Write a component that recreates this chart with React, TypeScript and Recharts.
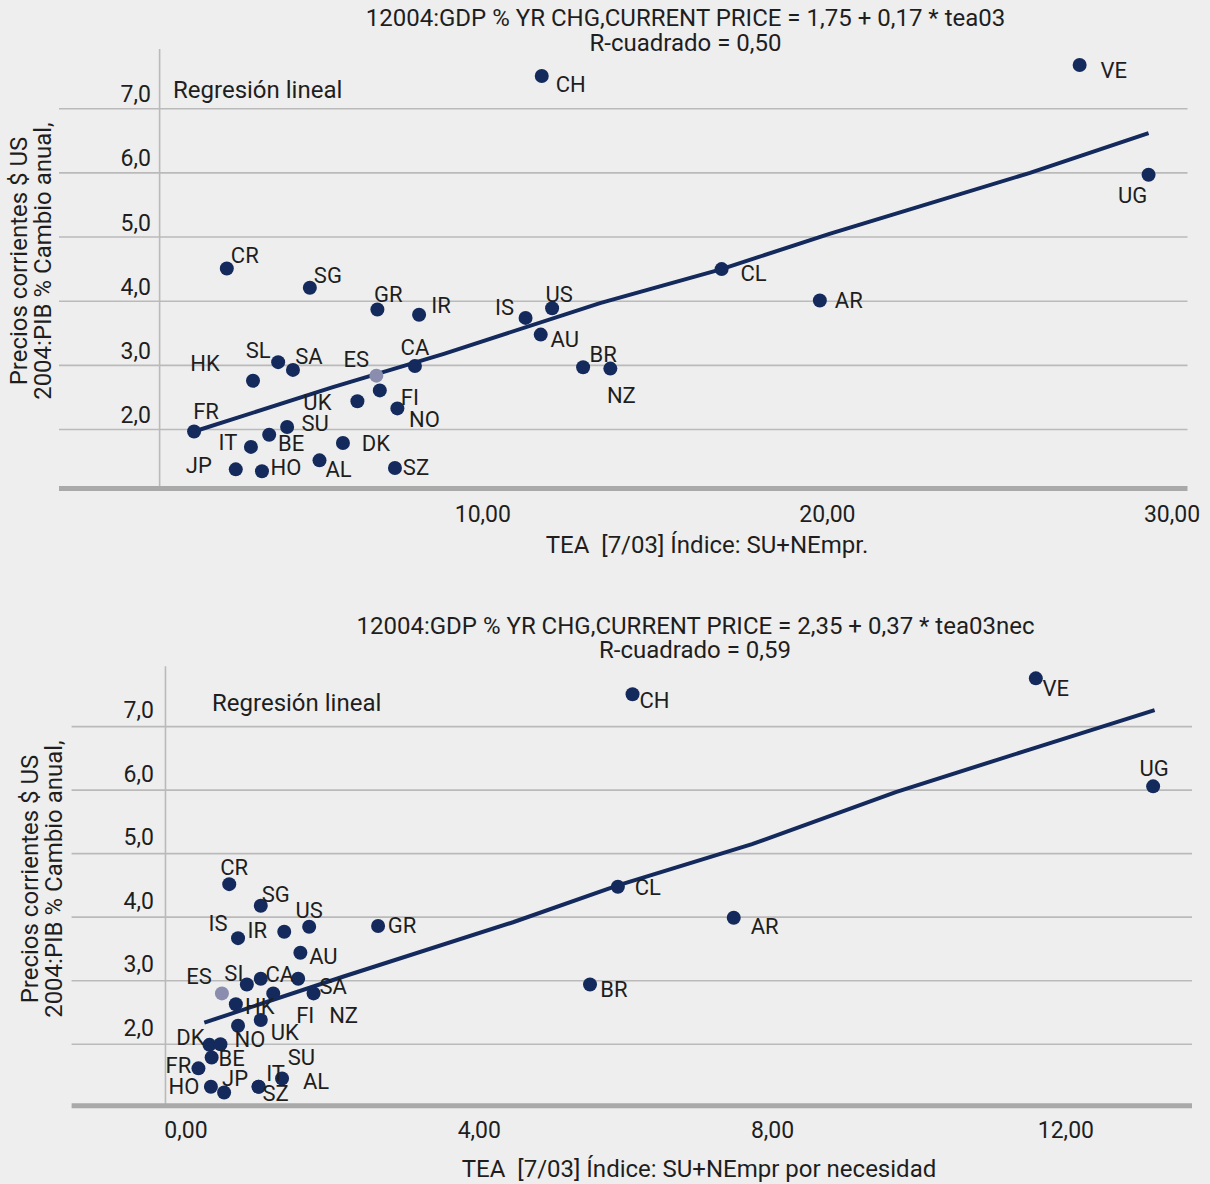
import React from 'react';
import { ScatterChart, Scatter, XAxis, YAxis, ReferenceLine } from 'recharts';

const NAVY = '#142a5c';
const SPAIN = '#8a8dae';
const GRID = '#bababa';
const AXIS = '#a9a9a9';
const BG = '#eeeeee';
const TEXT = '#1e1e1e';
const FONT = 'Roboto, "DejaVu Sans", sans-serif';

// --- chart 1: TEA total ---
const CODES_TEA = ['CH', 'VE', 'UG', 'CL', 'AR', 'CR', 'SG', 'GR', 'IR', 'IS', 'US', 'AU', 'BR', 'NZ', 'HK', 'SL', 'SA', 'ES', 'CA', 'FR', 'UK', 'FI', 'NO', 'SU', 'BE', 'IT', 'DK', 'JP', 'HO', 'AL', 'SZ'];
const TEA = [11.71, 27.32, 29.32, 16.93, 19.78, 2.57, 4.98, 6.94, 8.15, 11.24, 12.01, 11.68, 12.91, 13.7, 3.33, 4.06, 4.49, 6.91, 8.03, 1.62, 6.36, 7.01, 7.52, 4.32, 3.8, 3.27, 5.94, 2.83, 3.59, 5.26, 7.45];
const GDP_TEA = [7.51, 7.68, 5.97, 4.5, 4.01, 4.51, 4.21, 3.87, 3.79, 3.74, 3.89, 3.48, 2.97, 2.95, 2.76, 3.05, 2.93, 2.84, 2.99, 1.97, 2.44, 2.61, 2.33, 2.04, 1.92, 1.73, 1.79, 1.38, 1.35, 1.52, 1.4];
const FIT_TEA_X = [1.62, 5.65, 8.87, 13.4, 16.93, 20.06, 25.88, 29.32];
const FIT_TEA_Y = [1.97, 2.66, 3.18, 3.97, 4.5, 5.05, 6.0, 6.62];
const X_TICKS_TEA = [10, 20, 30];

// --- chart 2: TEA por necesidad ---
const CODES_NEC = ['CH', 'VE', 'UG', 'CL', 'AR', 'CR', 'SG', 'US', 'IR', 'IS', 'GR', 'AU', 'BR', 'ES', 'SI', 'CA', 'SA', 'FI', 'NZ', 'HK', 'UK', 'NO', 'DK', 'SU', 'BE', 'FR', 'HO', 'JP', 'IT', 'SZ', 'AL'];
const TEA_NEC = [6.09, 11.59, 13.19, 5.89, 7.47, 0.59, 1.02, 1.68, 1.34, 0.71, 2.62, 1.56, 5.51, 0.49, 0.83, 1.02, 1.53, 1.19, 1.74, 0.68, 1.02, 0.71, 0.32, 0.47, 0.35, 0.17, 0.34, 0.52, 0.99, 0.99, 1.31];
const GDP_NEC = [7.51, 7.76, 6.06, 4.48, 3.99, 4.52, 4.18, 3.85, 3.77, 3.67, 3.86, 3.44, 2.94, 2.8, 2.94, 3.03, 3.03, 2.8, 2.8, 2.63, 2.38, 2.29, 1.99, 2.0, 1.79, 1.62, 1.33, 1.24, 1.33, 1.33, 1.46];
const FIT_NEC_X = [0.25, 2.16, 4.46, 5.89, 7.72, 9.68, 11.59, 13.21];
const FIT_NEC_Y = [2.34, 3.07, 3.92, 4.5, 5.15, 5.97, 6.67, 7.26];
const X_TICKS_NEC = [0, 4, 8, 12];

const Y_TICKS = [2, 3, 4, 5, 6, 7];

// where each country code sits relative to its dot (px)
const LABEL_OFFSET_TEA: Record<string, [number, number]> = {
  CH: [29, 9], VE: [34, 5], UG: [-16, 21], CL: [32, 4], AR: [29, 0], CR: [18, -13], SG: [18, -12],
  GR: [11, -15], IR: [22, -9], IS: [-21, -10], US: [7, -14], AU: [24, 5], BR: [20, -13], NZ: [11, 27],
  HK: [-48, -17], SL: [-20, -12], SA: [16, -13], ES: [-20, -16], CA: [0, -19], FR: [12, -20], UK: [-40, 1],
  FI: [30, 7], NO: [27, 11], SU: [28, -3], BE: [22, 9], IT: [-23, -4], DK: [33, 0], JP: [-37, -4],
  HO: [24, -4], AL: [19, 9], SZ: [21, -1],
};
const LABEL_OFFSET_NEC: Record<string, [number, number]> = {
  CH: [22, 6], VE: [20, 10], UG: [1, -18], CL: [30, 1], AR: [31, 9], CR: [5, -17], SG: [15, -11],
  US: [0, -16], IR: [-27, -1], IS: [-20, -15], GR: [24, -1], AU: [23, 4], BR: [24, 5], ES: [-23, -17],
  SI: [-13, -11], CA: [19, -4], SA: [35, 8], FI: [32, 22], NZ: [30, 22], HK: [24, 2], UK: [24, 12],
  NO: [12, 14], DK: [-19, -7], SU: [81, 13], BE: [20, 1], FR: [-20, -3], HO: [-27, 0], JP: [11, -14],
  IT: [17, -13], SZ: [17, 7], AL: [34, 3],
};

const fmtX = (v: number) => v.toFixed(2).replace('.', ',');
const fmtY = (v: number) => v.toFixed(1).replace('.', ',');

const Txt = ({ x, y, children, anchor = 'middle', rotate = false, size = 24 }: any) => (
  <div
    style={{
      position: 'absolute',
      left: x,
      top: y,
      transform: `translate(${anchor === 'middle' ? '-50%' : '0'}, -50%)${rotate ? ' rotate(-90deg)' : ''}`,
      whiteSpace: 'pre',
      fontFamily: FONT,
      fontSize: size,
      lineHeight: 1,
      color: TEXT,
    }}
  >
    {children}
  </div>
);

interface PanelProps {
  codes: string[];
  xs: number[];
  ys: number[];
  fitX: number[];
  fitY: number[];
  offsets: Record<string, [number, number]>;
  xTicks: number[];
  xDomain: [number, number];
  yDomain: [number, number];
  axisAt: number;
  height: number;
  margin: { top: number; right: number; bottom: number; left: number };
  yAxisWidth: number;
  yTickX: number;
  yTickDy: number;
  xTickDy: number;
}

const Panel = ({ codes, xs, ys, fitX, fitY, offsets, xTicks, xDomain, yDomain, axisAt, height, margin, yAxisWidth, yTickX, yTickDy, xTickDy }: PanelProps) => {
  const points = codes.map((code, i) => ({ code, x: xs[i], y: ys[i] }));
  const fit = fitX.map((x, i) => ({ x, y: fitY[i] }));

  const dot = (p: any) => (
    <circle cx={p.cx} cy={p.cy} r={7} fill={p.payload.code === 'ES' ? SPAIN : NAVY} />
  );
  const label = (p: any) => {
    const [dx, dy] = offsets[p.payload.code] || [20, 0];
    return (
      <text x={p.cx + dx} y={p.cy + dy} textAnchor="middle" dominantBaseline="central" fontSize={22} fontFamily={FONT} fill={TEXT}>
        {p.payload.code}
      </text>
    );
  };

  return (
    <ScatterChart width={1210} height={height} margin={margin}>
      <XAxis
        type="number"
        dataKey="x"
        domain={xDomain}
        allowDataOverflow
        ticks={xTicks}
        height={30}
        tickSize={0}
        tickMargin={0}
        tickLine={false}
        axisLine={{ stroke: AXIS, strokeWidth: 5 }}
        tick={(p: any) => (
          <text x={p.x} y={p.y + xTickDy} textAnchor="middle" dominantBaseline="central" fontSize={23} fontFamily={FONT} fill={TEXT}>
            {fmtX(p.payload.value)}
          </text>
        )}
      />
      <YAxis
        type="number"
        dataKey="y"
        domain={yDomain}
        allowDataOverflow
        ticks={Y_TICKS}
        width={yAxisWidth}
        tickSize={0}
        tickMargin={0}
        tickLine={false}
        axisLine={false}
        tick={(p: any) => (
          <text x={yTickX} y={p.y + yTickDy} textAnchor="end" dominantBaseline="central" fontSize={23} fontFamily={FONT} fill={TEXT}>
            {fmtY(p.payload.value)}
          </text>
        )}
      />
      {Y_TICKS.map((v) => (
        <ReferenceLine key={v} y={v} stroke={GRID} strokeWidth={1.6} />
      ))}
      <ReferenceLine x={axisAt} stroke={GRID} strokeWidth={1.6} />
      <Scatter data={fit} line={{ stroke: NAVY, strokeWidth: 4 }} lineType="joint" shape={() => <g />} isAnimationActive={false} />
      <Scatter data={points} shape={dot} isAnimationActive={false} />
      <Scatter data={points} shape={label} isAnimationActive={false} />
    </ScatterChart>
  );
};

export default function App() {
  return (
    <div style={{ position: 'absolute', left: 0, top: 0, width: 1210, height: 1184, background: BG, overflow: 'hidden' }}>
      <div style={{ position: 'absolute', left: 0, top: 0 }}>
        <Panel
          codes={CODES_TEA}
          xs={TEA}
          ys={GDP_TEA}
          fitX={FIT_TEA_X}
          fitY={FIT_TEA_Y}
          offsets={LABEL_OFFSET_TEA}
          xTicks={X_TICKS_TEA}
          xDomain={[-2.3, 30.45]}
          yDomain={[1.08, 7.93]}
          axisAt={0.62}
          height={590}
          margin={{ top: 49, right: 22.5, bottom: 71.4, left: 0 }}
          yAxisWidth={59}
          yTickX={151}
          yTickDy={-14}
          xTickDy={26}
        />
      </div>
      <div style={{ position: 'absolute', left: 0, top: 590 }}>
        <Panel
          codes={CODES_NEC}
          xs={TEA_NEC}
          ys={GDP_NEC}
          fitX={FIT_NEC_X}
          fitY={FIT_NEC_Y}
          offsets={LABEL_OFFSET_NEC}
          xTicks={X_TICKS_NEC}
          xDomain={[-1.56, 13.72]}
          yDomain={[1.03, 7.95]}
          axisAt={-0.28}
          height={594}
          margin={{ top: 76.3, right: 18, bottom: 48.2, left: 0 }}
          yAxisWidth={71.6}
          yTickX={154}
          yTickDy={-16}
          xTickDy={25}
        />
      </div>

      <Txt x={685.5} y={18}>12004:GDP % YR CHG,CURRENT PRICE = 1,75 + 0,17 * tea03</Txt>
      <Txt x={685.5} y={43}>R-cuadrado = 0,50</Txt>
      <Txt x={173} y={90} anchor="start">Regresión lineal</Txt>
      <Txt x={707} y={545}>TEA  [7/03] Índice: SU+NEmpr.</Txt>
      <Txt x={19} y={261} rotate>Precios corrientes $ US</Txt>
      <Txt x={43} y={261} rotate>2004:PIB % Cambio anual,</Txt>

      <Txt x={695.5} y={626}>12004:GDP % YR CHG,CURRENT PRICE = 2,35 + 0,37 * tea03nec</Txt>
      <Txt x={695} y={650}>R-cuadrado = 0,59</Txt>
      <Txt x={212} y={703} anchor="start">Regresión lineal</Txt>
      <Txt x={699} y={1169}>TEA  [7/03] Índice: SU+NEmpr por necesidad</Txt>
      <Txt x={30} y={879} rotate>Precios corrientes $ US</Txt>
      <Txt x={54} y={879} rotate>2004:PIB % Cambio anual,</Txt>
    </div>
  );
}
